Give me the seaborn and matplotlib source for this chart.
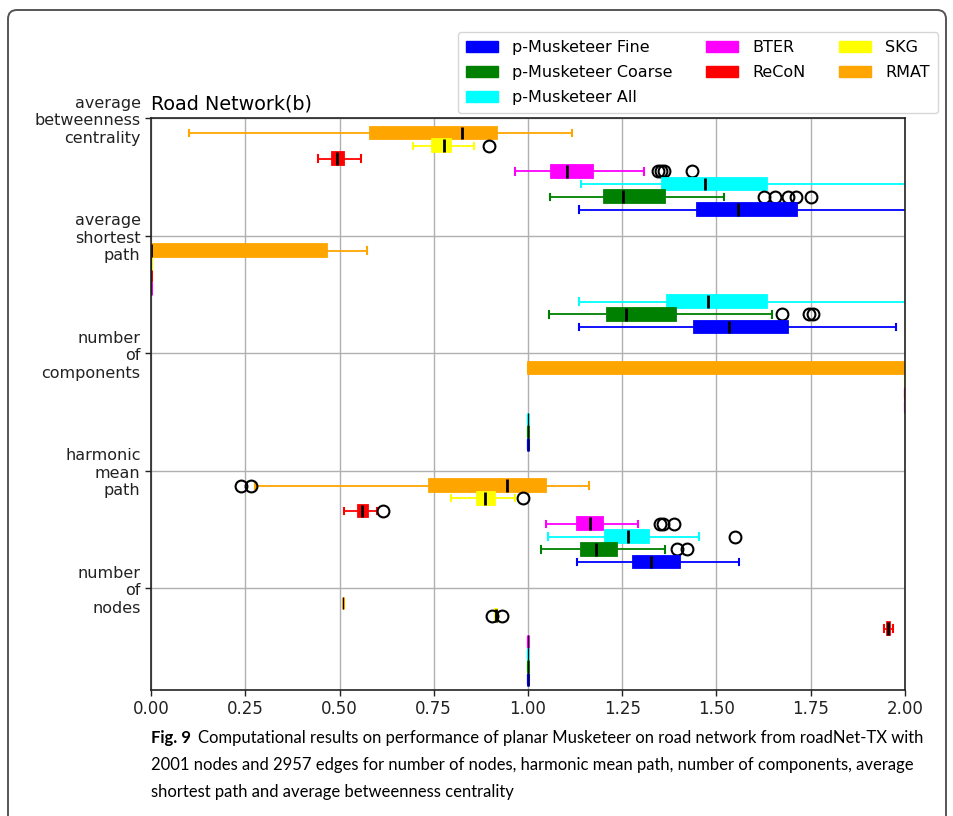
import matplotlib
matplotlib.use("Agg")
import matplotlib.pyplot as plt
from matplotlib.patches import Patch, FancyBboxPatch
from matplotlib.transforms import IdentityTransform
import numpy as np
import pandas as pd
import seaborn as sns

# ---- data -----------------------------------------------------------------
METRICS = ["average betweenness centrality", "average shortest path",
           "number of components", "harmonic mean path", "number of nodes"]
METRIC_LABELS = ["average\nbetweenness\ncentrality", "average\nshortest\npath",
                 "number\nof\ncomponents", "harmonic\nmean\npath", "number\nof\nnodes"]
METHODS = ["RMAT", "SKG", "ReCoN", "BTER",
           "p-Musketeer All", "p-Musketeer Coarse", "p-Musketeer Fine"]
COLORS = ["#ffa500", "#ffff00", "#ff0000", "#ff00ff",
          "#00ffff", "#008000", "#0000ff"]

# rows follow METRICS, columns follow METHODS
WHISK_LO = [[0.101, 0.694, 0.443, 0.966, 1.140, 1.059, 1.136],
            [0.0, 0.0, 0.0, 0.0, 1.136, 1.056, 1.134],
            [1.0, 2.0, 2.0, 2.0, 1.0, 1.0, 1.0],
            [0.275, 0.797, 0.511, 1.049, 1.054, 1.034, 1.131],
            [0.51, 0.912, 1.944, 1.0, 1.0, 1.0, 1.0]]
Q1 = [[0.581, 0.745, 0.480, 1.062, 1.355, 1.201, 1.448],
      [0.0, 0.0, 0.0, 0.0, 1.368, 1.210, 1.440],
      [1.0, 2.0, 2.0, 2.0, 1.0, 1.0, 1.0],
      [0.738, 0.866, 0.549, 1.130, 1.204, 1.140, 1.279],
      [0.51, 0.913, 1.952, 1.0, 1.0, 1.0, 1.0]]
MEDIAN = [[0.824, 0.777, 0.493, 1.103, 1.469, 1.252, 1.558],
          [0.0, 0.0, 0.0, 0.0, 1.477, 1.261, 1.534],
          [3.0, 2.0, 2.0, 2.0, 1.0, 1.0, 1.0],
          [0.945, 0.886, 0.561, 1.165, 1.264, 1.180, 1.326],
          [0.51, 0.915, 1.956, 1.0, 1.0, 1.0, 1.0]]
Q3 = [[0.919, 0.795, 0.513, 1.172, 1.633, 1.364, 1.714],
      [0.466, 0.0, 0.0, 0.0, 1.633, 1.392, 1.690],
      [4.0, 2.0, 2.0, 2.0, 1.0, 1.0, 1.0],
      [1.048, 0.913, 0.575, 1.200, 1.321, 1.237, 1.404],
      [0.51, 0.918, 1.960, 1.0, 1.0, 1.0, 1.0]]
WHISK_HI = [[1.118, 0.856, 0.556, 1.309, 2.04, 1.521, 2.08],
            [0.572, 0.0, 0.0, 0.0, 2.02, 1.648, 1.976],
            [5.0, 2.0, 2.0, 2.0, 1.0, 1.0, 1.0],
            [1.163, 0.965, 0.600, 1.292, 1.453, 1.363, 1.561],
            [0.51, 0.920, 1.967, 1.0, 1.0, 1.0, 1.0]]
OUTLIERS = [[[], [0.897], [], [1.345, 1.352, 1.360, 1.435], [],
             [1.626, 1.654, 1.689, 1.711, 1.750], []],
            [[], [], [], [], [], [1.675, 1.745, 1.755], []],
            [[], [], [], [], [], [], []],
            [[0.240, 0.266], [0.986], [0.616], [1.350, 1.359, 1.386], [1.549],
             [1.394, 1.422], []],
            [[], [0.904, 0.930], [], [], [], [], []]]

X_TICKS = [0.00, 0.25, 0.50, 0.75, 1.00, 1.25, 1.50, 1.75, 2.00]
LEGEND_ORDER = ["p-Musketeer Fine", "p-Musketeer Coarse", "p-Musketeer All",
                "BTER", "ReCoN", "SKG", "RMAT"]

# Each run's sample: whisker ends, quartiles and median (repeated so the
# quartiles land on them) plus the individual outlying runs.
REPEAT = 20
rows = []
for i, metric in enumerate(METRICS):
    for j, method in enumerate(METHODS):
        sample = ([WHISK_LO[i][j], WHISK_HI[i][j]]
                  + [Q1[i][j]] * REPEAT + [MEDIAN[i][j]] * REPEAT + [Q3[i][j]] * REPEAT
                  + list(OUTLIERS[i][j]))
        rows += [(metric, method, v) for v in sample]
df = pd.DataFrame(rows, columns=["metric", "method", "value"])

# ---- figure ---------------------------------------------------------------
W, H = 954, 816
fig = plt.figure(figsize=(W / 100, H / 100), dpi=100)
ax = fig.add_axes([151 / W, 1 - 690 / H, 754 / W, 572 / H])

GROUP_WIDTH = 0.76
sns.boxplot(data=df, x="value", y="metric", hue="method",
            order=METRICS, hue_order=METHODS,
            palette=dict(zip(METHODS, COLORS)), saturation=1,
            orient="h", width=GROUP_WIDTH, gap=0, dodge=True, whis=1.5,
            linewidth=1.3, linecolor="black", legend=False,
            flierprops=dict(marker="o", markerfacecolor="none",
                            markeredgecolor="black", markersize=8.5,
                            markeredgewidth=1.5),
            ax=ax)

# colour whiskers, caps and box edges like the box fill; medians stay black
for cont in ax.containers:
    boxes = getattr(cont, "boxes", None)
    if boxes is None:
        continue
    for k, box in enumerate(boxes):
        fc = box.get_facecolor()
        box.set_edgecolor(fc)
        ext = box.get_path().get_extents()
        flat = ext.width < 1e-9 or ext.height < 1e-9
        if flat:
            box.set_linewidth(2.2)
        for ln in cont.whiskers[2 * k:2 * k + 2]:
            ln.set_color(fc)
            ln.set_linewidth(1.3)
        for ln in cont.caps[2 * k:2 * k + 2]:
            ln.set_color(fc)
            ln.set_linewidth(1.5)
        if k < len(cont.medians):
            med = cont.medians[k]
            med.set_color("black")
            med.set_linewidth(0.8 if flat else 2.0)

# y ticks sit just above each group of boxes
first_offset = -GROUP_WIDTH / 2 + GROUP_WIDTH / 14
tick_pos = [k + first_offset - 0.128 for k in range(len(METRICS))]
ax.set_yticks(tick_pos)
ax.set_yticklabels(METRIC_LABELS, fontsize=11.5, ha="right")
ax.set_ylim(tick_pos[-1] + 0.868, tick_pos[0])

ax.set_xlim(0, 2)
ax.set_xticks(X_TICKS)
ax.set_xticklabels([f"{t:.2f}" for t in X_TICKS], fontsize=12)
ax.set_xlabel("")
ax.set_ylabel("")
ax.grid(True, color="#b0b0b0", linewidth=1.0)
ax.set_axisbelow(True)
for s in ax.spines.values():
    s.set_visible(True)
    s.set_color("#222222")
    s.set_linewidth(1.2)
ax.tick_params(axis="both", direction="out", length=4, width=1, colors="#222222")
ax.set_title("Road Network(b)", loc="left", fontsize=13.8, pad=6)

# legend above the plot area
color_of = dict(zip(METHODS, COLORS))
handles = [Patch(facecolor=color_of[m], edgecolor=color_of[m]) for m in LEGEND_ORDER]
fig.legend(handles, LEGEND_ORDER, ncol=3, loc="upper right",
           bbox_to_anchor=(938 / W, 1 - 32 / H), borderaxespad=0,
           fontsize=11.5, labelspacing=0.62, handletextpad=0.9,
           columnspacing=2.1, borderpad=0.5,
           frameon=True, edgecolor="#cccccc", fancybox=True)

# page frame around figure and caption
frame = FancyBboxPatch((8, -40), 938, (H - 10) + 40,
                       boxstyle="round,pad=0,rounding_size=9",
                       transform=IdentityTransform(), facecolor="none",
                       edgecolor="#555555", linewidth=1.4)
fig.patches.append(frame)

# caption
CAP_FONT = ["Lato", "DejaVu Sans"]
cap_lines = ["Computational results on performance of planar Musketeer on road network from roadNet-TX with",
             "2001 nodes and 2957 edges for number of nodes, harmonic mean path, number of components, average",
             "shortest path and average betweenness centrality"]
cap_y = [738, 765, 792]
x0 = 151 / W
fs = 12
bold = fig.text(x0, 1 - cap_y[0] / H, "Fig. 9", fontsize=fs, fontweight="bold",
                family=CAP_FONT, va="center", ha="left")
fig.canvas.draw()
r = fig.canvas.get_renderer()
bw = bold.get_window_extent(r).width
probe = fig.text(0, 0, "  " + cap_lines[0], fontsize=fs, family=CAP_FONT)
pw = probe.get_window_extent(r).width
probe.remove()
fs *= 771 / (bw + pw)
bold.set_fontsize(fs)
fig.canvas.draw()
bw = bold.get_window_extent(r).width
gap = fs * 0.55
fig.text(x0 + (bw + gap) / W, 1 - cap_y[0] / H, cap_lines[0], fontsize=fs,
         family=CAP_FONT, va="center", ha="left")
for line, yy in zip(cap_lines[1:], cap_y[1:]):
    fig.text(x0, 1 - yy / H, line, fontsize=fs, family=CAP_FONT, va="center", ha="left")

fig.savefig("out.png", dpi=100)
